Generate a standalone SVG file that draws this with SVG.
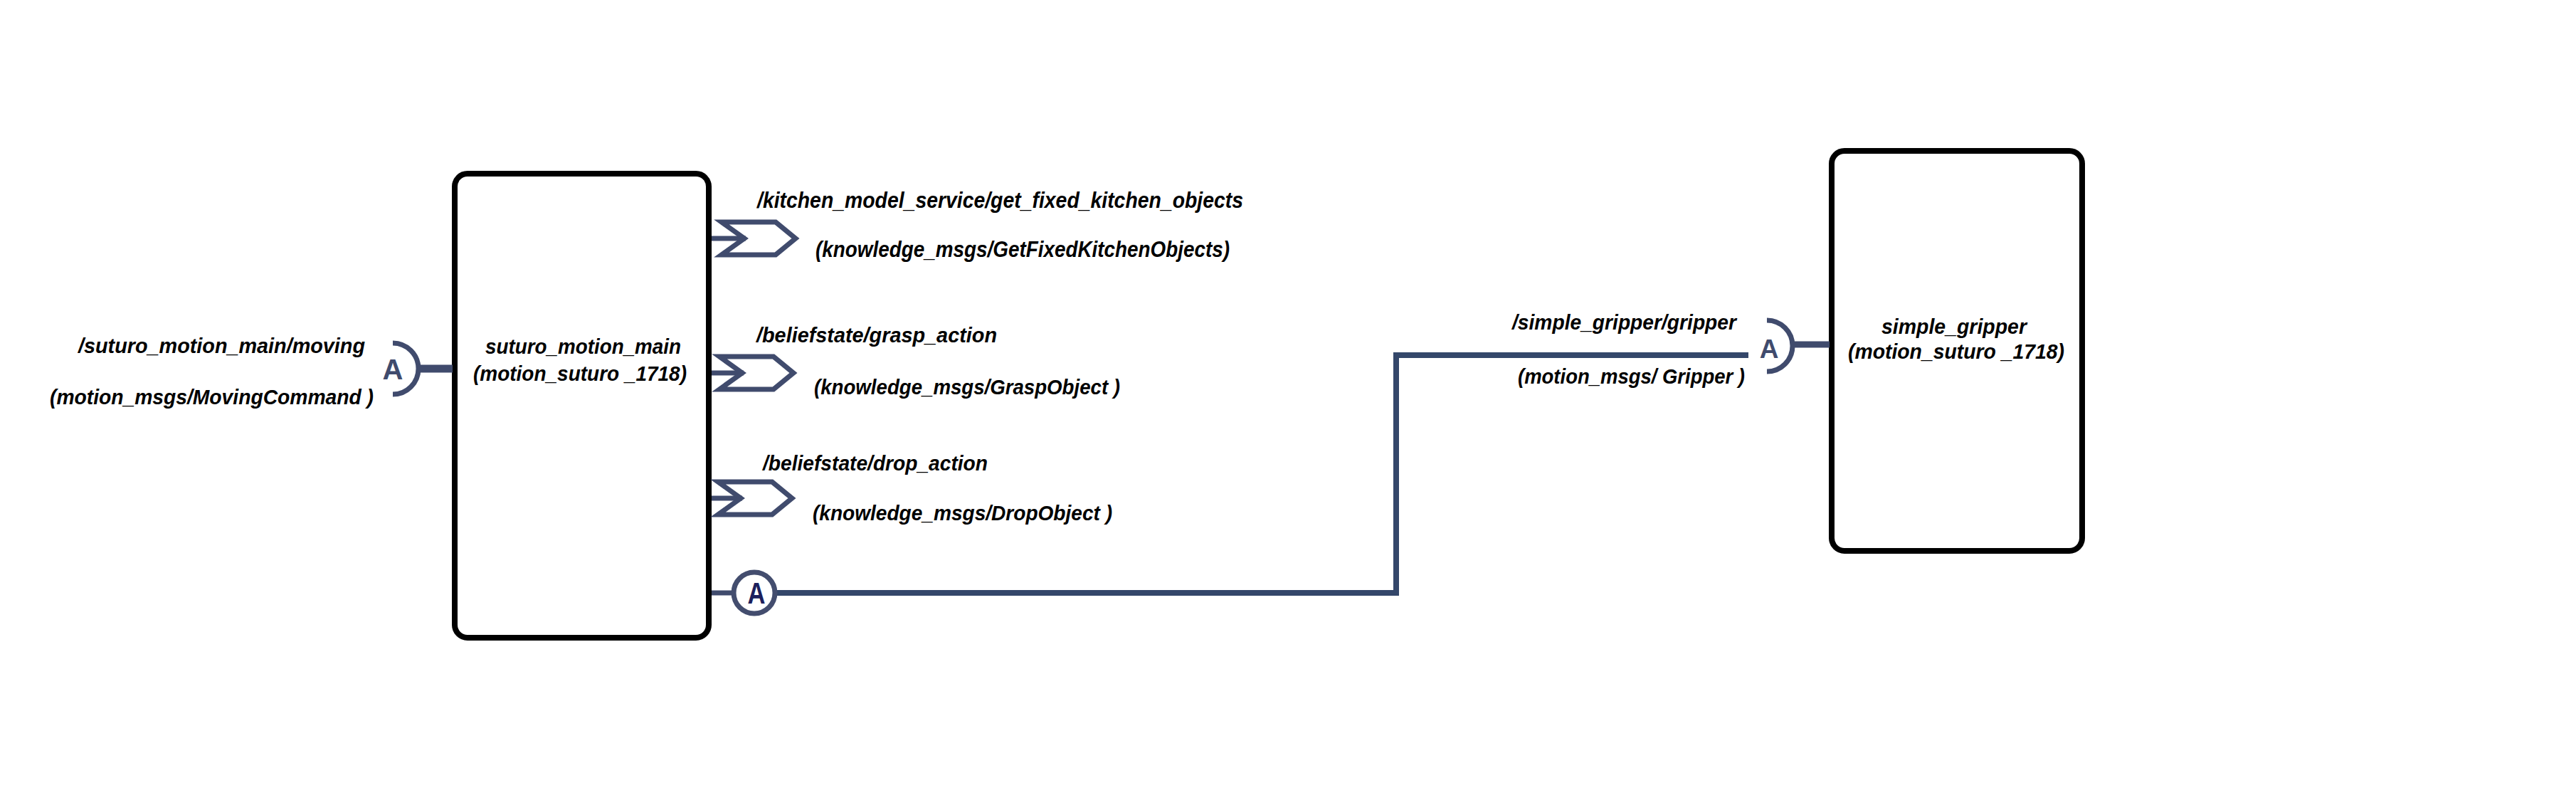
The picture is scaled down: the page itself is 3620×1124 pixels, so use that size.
<svg xmlns="http://www.w3.org/2000/svg" width="3620" height="1124" viewBox="0 0 3620 1124">
<style>
.node{fill:#fff;stroke:#000;stroke-width:8}
.lbl{font-family:"Liberation Sans",Arial,sans-serif;font-weight:bold;font-style:italic;font-size:30px;fill:#000}
.srvl{font-size:32px}
.port{fill:none;stroke:#404b6d;stroke-width:7}
.stub{stroke:#404b6d;fill:none}
.srv{fill:none;stroke:#404b6d;stroke-width:7;stroke-linejoin:miter}
.glyph{font-family:"Liberation Sans",Arial,sans-serif;font-weight:bold;text-anchor:middle}
.conn{fill:none;stroke:#34476a;stroke-width:8}
</style>
<rect width="3620" height="1124" fill="#fff"/>

<g id="connectors">
  <path class="conn" d="M1092 833 H1962 V499 H2457"/>
</g>

<g id="node-suturo_motion_main">
  <rect class="node" x="639" y="244" width="357" height="652" rx="18"/>
  <text class="lbl" x="682" y="497" textLength="275" lengthAdjust="spacingAndGlyphs">suturo_motion_main</text>
  <text class="lbl" x="665" y="535" textLength="300" lengthAdjust="spacingAndGlyphs">(motion_suturo _1718)</text>
</g>

<g id="port-moving">
  <line class="stub" x1="589" y1="518" x2="636" y2="518" stroke-width="11"/>
  <path class="port" d="M552 482 A36 36 0 0 1 552 554"/>
  <text class="glyph" x="552" y="533" font-size="40" fill="#404b6d">A</text>
  <text class="lbl" x="110" y="496" textLength="403" lengthAdjust="spacingAndGlyphs">/suturo_motion_main/moving</text>
  <text class="lbl" x="70" y="568" textLength="455" lengthAdjust="spacingAndGlyphs">(motion_msgs/MovingCommand )</text>
</g>

<g id="port-get_fixed_kitchen_objects">
  <line class="stub" x1="1000" y1="335" x2="1048" y2="335" stroke-width="7"/>
  <path class="srv" d="M1014 312 H1090 L1118 335 L1090 358 H1014 L1046 335 Z"/>
  <text class="lbl srvl" x="1064" y="292" textLength="683" lengthAdjust="spacingAndGlyphs">/kitchen_model_service/get_fixed_kitchen_objects</text>
  <text class="lbl srvl" x="1146" y="361" textLength="582" lengthAdjust="spacingAndGlyphs">(knowledge_msgs/GetFixedKitchenObjects)</text>
</g>

<g id="port-grasp_action">
  <line class="stub" x1="1000" y1="524" x2="1045" y2="524" stroke-width="7"/>
  <path class="srv" d="M1011 501 H1087 L1115 524 L1087 547 H1011 L1043 524 Z"/>
  <text class="lbl" x="1063" y="481" textLength="338" lengthAdjust="spacingAndGlyphs">/beliefstate/grasp_action</text>
  <text class="lbl" x="1144" y="554" textLength="430" lengthAdjust="spacingAndGlyphs">(knowledge_msgs/GraspObject )</text>
</g>

<g id="port-drop_action">
  <line class="stub" x1="1000" y1="700" x2="1043" y2="700" stroke-width="7"/>
  <path class="srv" d="M1009 677 H1085 L1113 700 L1085 723 H1009 L1041 700 Z"/>
  <text class="lbl" x="1072" y="661" textLength="316" lengthAdjust="spacingAndGlyphs">/beliefstate/drop_action</text>
  <text class="lbl" x="1142" y="731" textLength="421" lengthAdjust="spacingAndGlyphs">(knowledge_msgs/DropObject )</text>
</g>

<g id="port-action-client">
  <line class="stub" x1="1000" y1="833" x2="1030" y2="833" stroke-width="7"/>
  <circle cx="1060" cy="833" r="29" fill="#fff" stroke="#434d6e" stroke-width="7"/>
  <text class="glyph" x="1063" y="848" font-size="42" fill="#1c1f5c" textLength="25" lengthAdjust="spacingAndGlyphs">A</text>
</g>

<g id="node-simple_gripper">
  <rect class="node" x="2574" y="212" width="352" height="562" rx="18"/>
  <text class="lbl" x="2644" y="469" textLength="204" lengthAdjust="spacingAndGlyphs">simple_gripper</text>
  <text class="lbl" x="2597" y="504" textLength="304" lengthAdjust="spacingAndGlyphs">(motion_suturo _1718)</text>
</g>

<g id="port-gripper">
  <line class="stub" x1="2520" y1="484" x2="2571" y2="484" stroke-width="9"/>
  <path class="port" d="M2483 450 A36 36 0 0 1 2483 522"/>
  <text class="glyph" x="2486" y="503" font-size="37" fill="#404b6d">A</text>
  <text class="lbl" x="2125" y="463" textLength="315" lengthAdjust="spacingAndGlyphs">/simple_gripper/gripper</text>
  <text class="lbl" x="2133" y="539" textLength="319" lengthAdjust="spacingAndGlyphs">(motion_msgs/ Gripper )</text>
</g>
</svg>
